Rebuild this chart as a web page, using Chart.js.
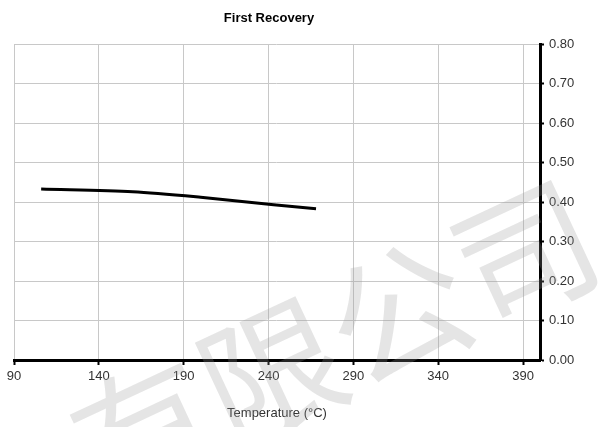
<!DOCTYPE html>
<html>
<head>
<meta charset="utf-8">
<script src="https://cdn.jsdelivr.net/npm/chart.js@4/dist/chart.umd.min.js"></script>
<style>
html,body{margin:0;padding:0;background:#fff;}
#wrap{width:598px;height:427px;position:relative;}
</style>
</head>
<body>
<div id="wrap"><canvas id="c" width="598" height="427"></canvas></div>
<script>
const chartTitle = 'First Recovery';
const xAxisTitle = 'Temperature (°C)';
const temperatures = [106, 160, 200, 243, 268];
const recovery = [0.433, 0.426, 0.412, 0.393, 0.383];
const xTicks = [90, 140, 190, 240, 290, 340, 390];
const yTicks = [0, 0.1, 0.2, 0.3, 0.4, 0.5, 0.6, 0.7, 0.8];
const watermark = '有限公司';

const FONT = "'Liberation Sans', Arial, sans-serif";

const titlePlugin = {
  id: 'customTitle',
  afterDraw(chart) {
    const {ctx, chartArea} = chart;
    ctx.save();
    ctx.font = 'bold 13px ' + FONT;
    ctx.fillStyle = '#000';
    ctx.textAlign = 'center';
    ctx.textBaseline = 'middle';
    ctx.fillText(chartTitle, (chartArea.left + chartArea.right) / 2 - 8, 18);
    ctx.restore();
  }
};

const watermarkPlugin = {
  id: 'watermark',
  afterDraw(chart) {
    const ctx = chart.ctx;
    ctx.save();
    ctx.translate(335, 342);
    ctx.rotate(-25 * Math.PI / 180);
    ctx.font = "140px 'Noto Sans CJK SC'";
    ctx.fillStyle = 'rgba(150,150,150,0.25)';
    ctx.textAlign = 'center';
    ctx.textBaseline = 'middle';
    ctx.fillText(watermark, 0, 0);
    ctx.restore();
  }
};

new Chart(document.getElementById('c'), {
  type: 'scatter',
  data: {
    datasets: [{
      data: temperatures.map((t, i) => ({x: t, y: recovery[i]})),
      showLine: true,
      borderColor: '#000',
      borderWidth: 3,
      pointRadius: 0,
      tension: 0.3,
      fill: false
    }]
  },
  options: {
    responsive: false,
    animation: false,
    layout: {padding: {left: 14, top: 44, right: 0, bottom: 6}},
    plugins: {legend: {display: false}, tooltip: {enabled: false}, title: {display: false}},
    scales: {
      x: {
        type: 'linear',
        min: 90, max: 400,
        afterBuildTicks: s => { s.ticks = xTicks.map(v => ({value: v})); },
        afterFit: s => { s.height = 61; },
        grid: {color: '#c8c8c8', lineWidth: 1, tickColor: '#000', tickLength: 5, tickWidth: 2},
        border: {color: '#000', width: 3},
        ticks: {color: '#333', font: {family: FONT, size: 13}, padding: 4, maxRotation: 0},
        title: {display: true, text: xAxisTitle, color: '#333', font: {family: FONT, size: 13}, padding: {top: 4, bottom: 0}}
      },
      y: {
        position: 'right',
        min: 0, max: 0.8,
        afterBuildTicks: s => { s.ticks = yTicks.map(v => ({value: v})); },
        afterFit: s => { s.width = 58; },
        grid: {color: '#c8c8c8', lineWidth: 1, tickColor: '#000', tickLength: 4, tickWidth: 2},
        border: {color: '#000', width: 3},
        ticks: {color: '#333', font: {family: FONT, size: 13}, padding: 5, callback: v => Number(v).toFixed(2)}
      }
    }
  },
  plugins: [titlePlugin, watermarkPlugin]
});
</script>
</body>
</html>
